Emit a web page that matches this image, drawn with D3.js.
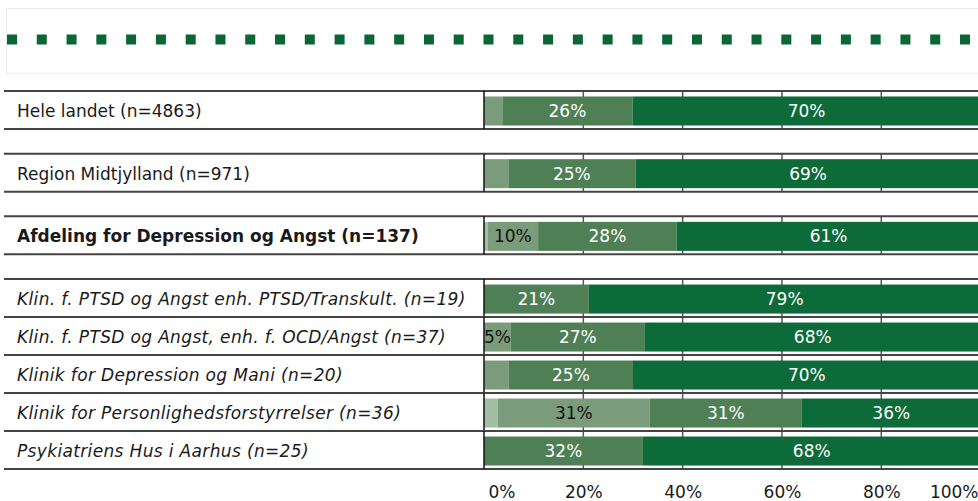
<!DOCTYPE html>
<html>
<head>
<meta charset="utf-8">
<script src="https://cdn.jsdelivr.net/npm/d3@7"></script>
<style>
  body { margin: 0; background: #fff; }
  svg { display: block; font-family: Verdana, "DejaVu Sans", sans-serif; }
</style>
</head>
<body>
<script>
// Rows of the table (null = empty spacer row)
var categories = [
    "Hele landet (n=4863)", null,
    "Region Midtjylland (n=971)", null,
    "Afdeling for Depression og Angst (n=137)", null,
    "Klin. f. PTSD og Angst enh. PTSD/Transkult. (n=19)",
    "Klin. f. PTSD og Angst, enh. f. OCD/Angst (n=37)",
    "Klinik for Depression og Mani (n=20)",
    "Klinik for Personlighedsforstyrrelser (n=36)",
    "Psykiatriens Hus i Aarhus (n=25)"
];
var rowStyle = ["normal", null, "normal", null, "bold", null, "italic", "italic", "italic", "italic", "italic"];

// Four answer groups, lightest to darkest (percent)
var seriesA = [0.0, 0.0, 0.7, 0.0, 0.0, 0.0, 2.8, 0.0];
var seriesB = [3.7, 4.9, 10.2, 0.0, 5.4, 5.0, 30.6, 0.0];
var seriesC = [26.2, 25.6, 27.9, 21.1, 27.0, 25.0, 30.6, 32.0];
var seriesD = [70.1, 69.5, 61.2, 78.9, 67.6, 70.0, 36.0, 68.0];
var segLabels = [
    ["", "", "26%", "70%"],
    ["", "", "25%", "69%"],
    ["", "10%", "28%", "61%"],
    ["", "", "21%", "79%"],
    ["", "5%", "27%", "68%"],
    ["", "", "25%", "70%"],
    ["", "31%", "31%", "36%"],
    ["", "", "32%", "68%"]
];
var tickValues = [0, 20, 40, 60, 80, 100];
var tickLabels = ["0%", "20%", "40%", "60%", "80%", "100%"];

var colors = ["#a3bfa3", "#7b9c7b", "#4e7f55", "#0d6a39"];
var textColors = ["#111", "#111", "#fff", "#fff"];

var W = 978, H = 501;
var svg = d3.select("body").append("svg").attr("width", W).attr("height", H);

// legend strip (the legend text is not shown, only the markers)
svg.append("rect")
    .attr("x", 6.5).attr("y", 8.5).attr("width", 980).attr("height", 65)
    .attr("fill", "none").attr("stroke", "#ececec");
var markers = d3.range(33);
var mx = d3.scaleLinear().domain([0, 32]).range([7, 960]);
svg.selectAll("rect.marker").data(markers).enter().append("rect")
    .attr("class", "marker")
    .attr("x", function(d) { return mx(d); })
    .attr("y", 34.5).attr("width", 10).attr("height", 10)
    .attr("fill", "#0a6636");

// vertical layout: rows are 1 unit high, spacers 0.65 unit
var units = [];
var acc = 0;
categories.forEach(function(c) {
    units.push(acc);
    acc += c === null ? 0.65 : 1;
});
var y = d3.scaleLinear().domain([0, acc]).range([91, 469]);
var rowH = y(1) - y(0);

var x = d3.scaleLinear().domain([0, 100]).range([484, 980.6]);

var rows = [];
var k = 0;
categories.forEach(function(c, i) {
    if (c === null) return;
    var vals = [seriesA[k], seriesB[k], seriesC[k], seriesD[k]];
    rows.push({ label: c, style: rowStyle[i], top: y(units[i]), vals: vals, labels: segLabels[k] });
    k++;
});

var g = svg.selectAll("g.row").data(rows).enter().append("g").attr("class", "row");

// gridlines inside each row
g.each(function(r) {
    d3.select(this).selectAll("line.grid").data([20, 40, 60, 80]).enter().append("line")
        .attr("x1", function(d) { return x(d); }).attr("x2", function(d) { return x(d); })
        .attr("y1", r.top).attr("y2", r.top + rowH)
        .attr("stroke", "#555").attr("stroke-width", 1.5);
});

// stacked bars
g.each(function(r) {
    var start = 0;
    var segs = r.vals.map(function(v, j) {
        var s = { x0: start, x1: start + v, j: j, label: r.labels[j] };
        start += v;
        return s;
    });
    var sel = d3.select(this);
    sel.selectAll("rect.seg").data(segs.filter(function(s) { return s.x1 > s.x0; })).enter().append("rect")
        .attr("x", function(s) { return x(s.x0); })
        .attr("width", function(s) { return x(s.x1) - x(s.x0); })
        .attr("y", r.top + 5.5).attr("height", 29)
        .attr("fill", function(s) { return colors[s.j]; });
    sel.selectAll("text.seg").data(segs.filter(function(s) { return s.label; })).enter().append("text")
        .attr("x", function(s) { return (x(s.x0) + x(s.x1)) / 2; })
        .attr("y", r.top + 20)
        .attr("dy", "0.35em")
        .attr("text-anchor", "middle")
        .attr("font-size", 17)
        .attr("fill", function(s) { return textColors[s.j]; })
        .text(function(s) { return s.label; });
});

// row borders and label column
g.append("line")
    .attr("x1", 4).attr("x2", W).attr("y1", function(r) { return r.top; }).attr("y2", function(r) { return r.top; })
    .attr("stroke", "#444").attr("stroke-width", 2);
g.append("line")
    .attr("x1", 4).attr("x2", W).attr("y1", function(r) { return r.top + rowH; }).attr("y2", function(r) { return r.top + rowH; })
    .attr("stroke", "#444").attr("stroke-width", 2);
g.append("line")
    .attr("x1", x(0)).attr("x2", x(0)).attr("y1", function(r) { return r.top; }).attr("y2", function(r) { return r.top + rowH; })
    .attr("stroke", "#111").attr("stroke-width", 1.5);
g.append("text")
    .attr("x", 17)
    .attr("y", function(r) { return r.top + 20; })
    .attr("dy", "0.35em")
    .attr("font-size", 17)
    .attr("fill", "#1a1a1a")
    .attr("font-weight", function(r) { return r.style === "bold" ? "bold" : "normal"; })
    .attr("font-style", function(r) { return r.style === "italic" ? "italic" : "normal"; })
    .attr("letter-spacing", function(r) { return r.style === "italic" ? 0.35 : 0; })
    .text(function(r) { return r.label; });

// x axis labels
var axis = d3.axisBottom(x).tickValues(tickValues).tickSize(0)
    .tickFormat(function(d, i) { return tickLabels[i]; });
var ax = svg.append("g").attr("transform", "translate(0,480)").call(axis);
ax.select(".domain").remove();
ax.selectAll("text").attr("font-size", 17).attr("fill", "#1a1a1a")
    .attr("font-family", "Verdana, 'DejaVu Sans', sans-serif")
    .attr("dy", "0.35em").attr("y", 12);
ax.selectAll(".tick").filter(function(d) { return d === 0; }).select("text")
    .attr("text-anchor", "start").attr("x", 4);
ax.selectAll(".tick").filter(function(d) { return d === 100; }).select("text")
    .attr("text-anchor", "end").attr("x", W - x(100));
</script>
</body>
</html>
